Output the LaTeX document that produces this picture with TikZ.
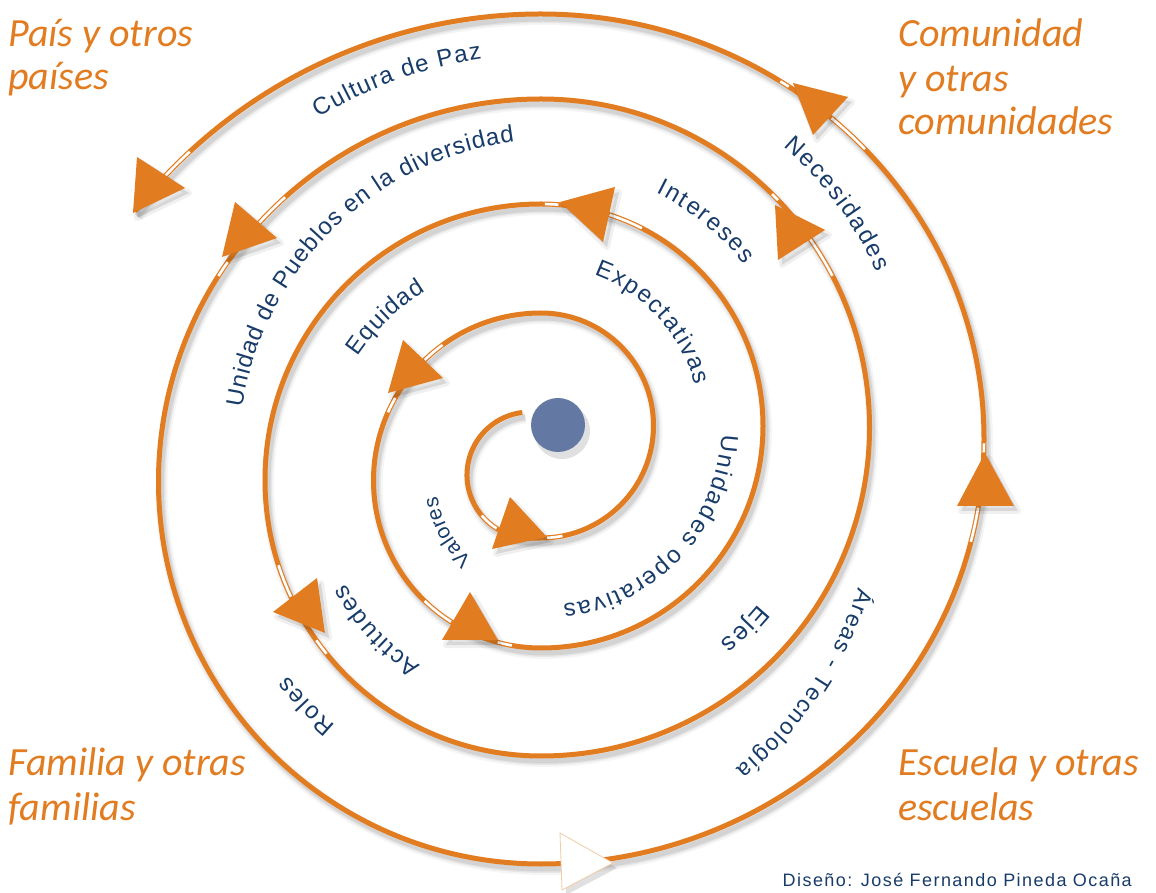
\documentclass[tikz,border=0pt]{standalone}
\usepackage{fontspec}
\setmainfont{Liberation Sans}
\newfontfamily\orfont{Carlito}
\newfontfamily\blfont{Liberation Sans}
\newfontfamily\credfont[LetterSpace=8]{Liberation Sans}
\usetikzlibrary{decorations.text}
\definecolor{orng}{RGB}{226,124,32}
\definecolor{navy}{RGB}{24,60,105}
\definecolor{dotblue}{RGB}{99,121,163}
\newcommand\spiralpath{(522.3,479.5) arc[start angle=97,end angle=270,radius=63] -- (541,354) arc[start angle=-90,end angle=90,radius=112.5] arc[start angle=90,end angle=270,radius=167.5] arc[start angle=-90,end angle=90,radius=222] arc[start angle=90,end angle=270,radius=276] arc[start angle=-90,end angle=90,radius=328.5] arc[start angle=90,end angle=270,radius=382.5] arc[start angle=-90,end angle=90,x radius=443,y radius=425] arc[start angle=90,end angle=141.8,radius=517]}
\newcommand\tri[3]{%
  \fill[black,opacity=0.10,shift={(4,-5)}] #1 -- #2 -- #3 -- cycle;
  \draw[black,opacity=0.06,line width=6,line join=round,shift={(4,-5)}] #1 -- #2 -- #3 -- cycle;
  \fill[orng] #1 -- #2 -- #3 -- cycle;}
\newcommand\gapseg[4]{\draw[gapline] #1 ++(#3:#2) arc[start angle=#3,end angle=#4,radius=#2];}
\newcommand\gapell[2]{\draw[gapline] (541,453) ++(#1:443 and 425) arc[start angle=#1,end angle=#2,x radius=443,y radius=425];}
\newcommand\arctext[6]{\path[decorate,decoration={text along path,text align={fit to path},text color=navy,text={|\blfont\fontsize{#5}{#5}\selectfont|#6}}] #1 ++(#3:#2) arc[start angle=#3,end angle=#4,radius=#2];}
\tikzset{
  orlabel/.style={font=\orfont\itshape\fontsize{40}{40}\selectfont, text=orng, anchor=base west, inner sep=0pt},
  spiral/.style={draw=orng, line width=5, line cap=butt},
  gapline/.style={draw=white, line width=2.6, line cap=butt}
}
\begin{document}
\begin{tikzpicture}[x=1pt,y=1pt]
\useasboundingbox (0,0) rectangle (1156,892);
\fill[white] (0,0) rectangle (1156,892);
% shadows of the spiral
\begin{scope}[shift={(3,-5)}]
  \draw[line width=12, black, opacity=0.04] \spiralpath;
  \draw[line width=8, black, opacity=0.06] \spiralpath;
  \draw[line width=5, black, opacity=0.08] \spiralpath;
\end{scope}
\draw[spiral] \spiralpath;
% light gaps beside the arrow heads
\gapseg{(530,417)}{63}{220}{238}
\gapseg{(541,466.5)}{112.5}{-87}{-79}
\gapseg{(541,411.5)}{167.5}{126}{134}
\gapseg{(541,411.5)}{167.5}{150.5}{156}
\gapseg{(541,411.5)}{167.5}{226}{237.5}
\gapseg{(541,411.5)}{167.5}{255}{260}
\gapseg{(541,412)}{276}{198}{205}
\gapseg{(541,412)}{276}{215.5}{219}
\gapseg{(541,410.5)}{382.5}{132}{137.5}
\gapseg{(541,410.5)}{382.5}{145}{147.5}
\gapseg{(541,361)}{517}{132.8}{136.7}
\gapseg{(541,466)}{222}{63}{72}
\gapseg{(541,466)}{222}{85.5}{89}
\gapseg{(541,464.5)}{328.5}{27.5}{35}
\gapseg{(541,464.5)}{328.5}{43.8}{45.3}
\gapell{43}{49}
\gapell{56}{57.3}
\gapell{-14}{-9.3}
\gapell{-1.8}{-0.6}
% dot
\fill[black,opacity=0.12] (562,461) circle (28);
\node[circle, fill=dotblue, minimum size=54pt, inner sep=0pt] (dot) at (558,467) {};
% arrow heads
\tri{(510,395)}{(547,355)}{(492,343)}
\tri{(403,552)}{(443,514)}{(388,499)}
\tri{(470,300)}{(498,252)}{(442,252)}
\tri{(273,280)}{(317,314)}{(325,259)}
\tri{(235,690)}{(277,654)}{(222,635)}
\tri{(137,735)}{(185,704)}{(133,679)}
\tri{(560,690)}{(615,705)}{(603,650)}
\tri{(775,687)}{(825,662)}{(778,632)}
\tri{(793,809)}{(848,795)}{(813,757)}
\tri{(985,439)}{(957,386)}{(1014,386)}
\fill[black,opacity=0.12,shift={(4,-5)}] (560,59) -- (613,29) -- (562,2) -- cycle;
\filldraw[fill=white, draw=orng!40, line width=0.8] (560,59) -- (613,29) -- (562,2) -- cycle;
% curved texts
\arctext{(541,412)}{425}{121.5}{98}{24}{Cultura de Paz}
\arctext{(555,437)}{316}{171.3}{97.4}{24}{Unidad de Pueblos en la diversidad}
\arctext{(541,412)}{221}{146}{121.5}{24}{Equidad}
\arctext{(541,467)}{259}{63.7}{38.3}{24}{Intereses}
\arctext{(541,467)}{369}{49}{24.5}{24}{Necesidades}
\arctext{(541,467)}{159}{70.5}{14.5}{24}{Expectativas}
\arctext{(541,467)}{181}{-3}{-83}{24}{Unidades operativas}
\arctext{(541,412)}{105}{229}{189}{21}{Valores}
\arctext{(541,412)}{221}{237}{208}{24}{Actitudes}
\arctext{(541,412)}{320}{230}{217.8}{24}{Roles}
\arctext{(541,467)}{282}{-39.5}{-50.5}{25}{Ejes}
\arctext{(481,427)}{397}{-18}{-50}{23}{Áreas - Tecnología}
% orange labels
\node[orlabel] (pais1) at (8,845) {País y otros};
\node[orlabel] (pais2) at (8,802) {países};
\node[orlabel] (com1) at (898,845) {Comunidad};
\node[orlabel] (com2) at (898,800) {y otras};
\node[orlabel] (com3) at (898,757) {comunidades};
\node[orlabel] (fam1) at (8,117) {Familia y otras};
\node[orlabel] (fam2) at (8,72) {familias};
\node[orlabel] (esc1) at (898,117) {Escuela y otras};
\node[orlabel] (esc2) at (898,72) {escuelas};
\node[font=\credfont\fontsize{18}{18}\selectfont, text=navy, anchor=base east, inner sep=0pt] (credit) at (1132,6) {Diseño: José Fernando Pineda Ocaña};
\end{tikzpicture}
\end{document}
